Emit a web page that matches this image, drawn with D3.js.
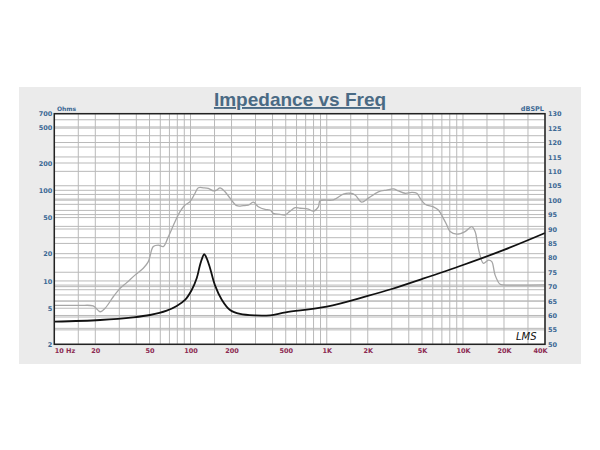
<!DOCTYPE html>
<html>
<head>
<meta charset="utf-8">
<script src="https://cdn.jsdelivr.net/npm/d3@7"></script>
<style>
  body { margin: 0; background: #fff; }
  svg { display: block; }
</style>
</head>
<body>
<div id="chart"></div>
<script>
// impedance curve (Hz, ohms)
let impFreq = [10, 21.7, 38, 50.4, 66.9, 79.2, 91.1, 102, 111, 117.4, 122, 126, 131, 139, 151, 170, 195, 231, 298, 384, 500, 1000, 2000, 3000, 5000, 10000, 20000, 40000];
let impOhms = [3.55, 3.71, 3.97, 4.21, 4.70, 5.29, 6.17, 7.95, 10.7, 15.0, 18.0, 19.7, 18.0, 13.9, 9.0, 6.17, 4.78, 4.32, 4.16, 4.18, 4.5, 5.2, 6.83, 8.15, 10.5, 15.0, 22.0, 33.8];

// spl curve (Hz, dB)
let splFreq = [10, 15.4, 19.3, 21.7, 23.6, 27.1, 30.4, 34, 39.1, 45, 49, 53.3, 58, 63.1, 68.7, 76.9, 83.7, 91.1, 99.2, 107.9, 114.1, 124.2, 135.1, 147.1, 155.7, 164.7, 179.2, 195, 218.4, 244.2, 265.7, 289.2, 314.7, 352.4, 383.5, 405.5, 454.1, 494.1, 537.7, 585.3, 636.8, 732.8, 797.3, 867.7, 892.9, 1118, 1324, 1483, 1614, 1807, 2020, 2393, 2758, 3083, 3355, 3757, 4209, 4580, 4842, 5269, 6064, 6597, 7180, 7605, 8041, 9006, 10360, 11600, 12270, 12970, 14120, 15370, 16270, 17210, 18730, 19800, 40000];
let splDb = [63.5, 63.5, 63.3, 61.3, 62.5, 66.5, 69.4, 71.4, 74, 76.4, 78.7, 83.9, 84.4, 83.9, 87.3, 92.5, 96, 98.3, 99.5, 102.4, 104.3, 104.3, 104.1, 103.2, 103.5, 104.3, 102.9, 100.7, 98.1, 98.1, 98.3, 99.3, 97.7, 96.8, 96.6, 95.4, 95.1, 94.9, 96.2, 97.4, 97.2, 96.9, 96.2, 97.7, 99.8, 100.1, 102.1, 102.4, 101.8, 99.3, 100.7, 102.9, 103.5, 103.9, 103.2, 102.4, 102.7, 102.4, 100.7, 98.6, 97.7, 96.6, 93.7, 91.4, 89.1, 88.2, 89.1, 90.8, 89.1, 83.3, 78.1, 79.2, 78.7, 74, 70.8, 70.6, 70.6];

// tick labels
let freqTicks = [10, 20, 50, 100, 200, 500, 1000, 2000, 5000, 10000, 20000, 40000];
let freqLabels = ["10", "20", "50", "100", "200", "500", "1K", "2K", "5K", "10K", "20K", "40K"];
let ohmTicks = [2, 5, 10, 20, 50, 100, 200, 500, 700];
let dbTicks = [50, 55, 60, 65, 70, 75, 80, 85, 90, 95, 100, 105, 110, 115, 120, 125, 130];

let width = 600, height = 450;
let plot = { left: 54.3, right: 545, top: 113.7, bottom: 344.3 };

let svg = d3.select("#chart")
    .append("svg")
    .attr("width", width)
    .attr("height", height);

svg.append("rect")
    .attr("x", 19).attr("y", 87)
    .attr("width", 562).attr("height", 277)
    .attr("fill", "#ebebeb");

let x = d3.scaleLog().domain([10, 40000]).range([plot.left, plot.right]);
let yImp = d3.scaleLog().domain([2, 700]).range([plot.bottom, plot.top]);
let ySpl = d3.scaleLinear().domain([50, 130]).range([plot.bottom, plot.top]);

svg.append("rect")
    .attr("x", plot.left).attr("y", plot.top)
    .attr("width", plot.right - plot.left).attr("height", plot.bottom - plot.top)
    .attr("fill", "#fff");

// grid lines
let vGrid = [];
[10, 100, 1000, 10000].forEach(function(dec) {
  [1, 1.5, 2, 3, 4, 5, 6, 7, 8, 9].forEach(function(m) {
    if (dec * m <= 40000) vGrid.push(dec * m);
  });
});
let hImp = [];
[1, 10, 100].forEach(function(dec) {
  for (let m = 1; m <= 9; m++) {
    let v = dec * m;
    if (v > 2 && v < 700) hImp.push(v);
  }
});

let grid = svg.append("g").attr("stroke", "#b9b9b9").attr("stroke-width", 1);
grid.selectAll(".vg").data(vGrid).enter().append("line")
    .attr("x1", function(d) { return x(d); })
    .attr("x2", function(d) { return x(d); })
    .attr("y1", plot.top).attr("y2", plot.bottom);
grid.selectAll(".hi").data(hImp).enter().append("line")
    .attr("x1", plot.left).attr("x2", plot.right)
    .attr("y1", function(d) { return yImp(d); })
    .attr("y2", function(d) { return yImp(d); });
grid.selectAll(".hs").data(dbTicks).enter().append("line")
    .attr("x1", plot.left).attr("x2", plot.right)
    .attr("y1", function(d) { return ySpl(d); })
    .attr("y2", function(d) { return ySpl(d); });

// curves
let splLine = d3.line()
    .x(function(d) { return x(d[0]); })
    .y(function(d) { return ySpl(d[1]); })
    .curve(d3.curveCatmullRom);
svg.append("path")
    .datum(splFreq.map(function(f, i) { return [f, splDb[i]]; }))
    .attr("d", splLine)
    .attr("fill", "none")
    .attr("stroke", "#a6a6a6")
    .attr("stroke-width", 1.3);

let impLine = d3.line()
    .x(function(d) { return x(d[0]); })
    .y(function(d) { return yImp(d[1]); })
    .curve(d3.curveCatmullRom);
svg.append("path")
    .datum(impFreq.map(function(f, i) { return [f, impOhms[i]]; }))
    .attr("d", impLine)
    .attr("fill", "none")
    .attr("stroke", "#111")
    .attr("stroke-width", 1.8);

svg.append("rect")
    .attr("x", plot.left).attr("y", plot.top)
    .attr("width", plot.right - plot.left).attr("height", plot.bottom - plot.top)
    .attr("fill", "none")
    .attr("stroke", "#222")
    .attr("stroke-width", 1.5);

// axes
let tickFont = "'DejaVu Sans', Verdana, sans-serif";
let blue = "#3b6894";
let maroon = "#8c2a52";

let leftAxis = svg.append("g")
    .attr("transform", `translate(${plot.left - 2},0)`)
    .call(d3.axisLeft(yImp).tickValues(ohmTicks).tickSize(0).tickPadding(0)
      .tickFormat(d3.format("d")));
let rightAxis = svg.append("g")
    .attr("transform", `translate(${plot.right + 3},0)`)
    .call(d3.axisRight(ySpl).tickValues(dbTicks).tickSize(0).tickPadding(0));
let bottomAxis = svg.append("g")
    .attr("transform", `translate(0,${plot.bottom + 2.5})`)
    .call(d3.axisBottom(x).tickValues(freqTicks).tickSize(0).tickPadding(0)
      .tickFormat(function(d, i) { return freqLabels[i]; }));

[leftAxis, rightAxis, bottomAxis].forEach(function(a) {
  a.select(".domain").remove();
  a.selectAll("text")
    .style("font-family", tickFont)
    .style("font-size", "6.5px")
    .style("font-weight", "bold");
});
leftAxis.selectAll("text").attr("fill", blue);
rightAxis.selectAll("text").attr("fill", blue);
bottomAxis.selectAll("text").attr("fill", maroon).attr("dy", "0.9em");
bottomAxis.selectAll("text").filter(function(d) { return d === 10; })
    .attr("text-anchor", "start");
bottomAxis.selectAll("text").filter(function(d) { return d === 40000; })
    .attr("text-anchor", "end").attr("x", 2);

svg.append("text")
    .attr("x", 66).attr("y", plot.bottom + 2.5)
    .attr("dy", "0.9em")
    .attr("fill", maroon)
    .style("font-family", tickFont)
    .style("font-size", "6.5px")
    .style("font-weight", "bold")
    .text("Hz");

svg.append("text")
    .attr("x", 57).attr("y", 111)
    .attr("fill", blue)
    .style("font-family", tickFont)
    .style("font-size", "6px")
    .style("font-weight", "bold")
    .text("Ohms");

svg.append("text")
    .attr("x", 544).attr("y", 111)
    .attr("text-anchor", "end")
    .attr("fill", blue)
    .style("font-family", tickFont)
    .style("font-size", "6.5px")
    .style("font-weight", "bold")
    .text("dBSPL");

svg.append("text")
    .attr("x", 300).attr("y", 106)
    .attr("text-anchor", "middle")
    .attr("fill", "#4a6a84")
    .style("font-family", "'Liberation Sans', Arial, sans-serif")
    .style("font-size", "19px")
    .style("font-weight", "bold")
    .style("text-decoration", "underline")
    .text("Impedance vs Freq");

svg.append("text")
    .attr("x", 516).attr("y", 340)
    .attr("fill", "#111")
    .style("font-family", "'DejaVu Sans', sans-serif")
    .style("font-size", "10px")
    .style("font-style", "italic")
    .style("font-weight", "300")
    .text("LMS");
</script>
</body>
</html>
